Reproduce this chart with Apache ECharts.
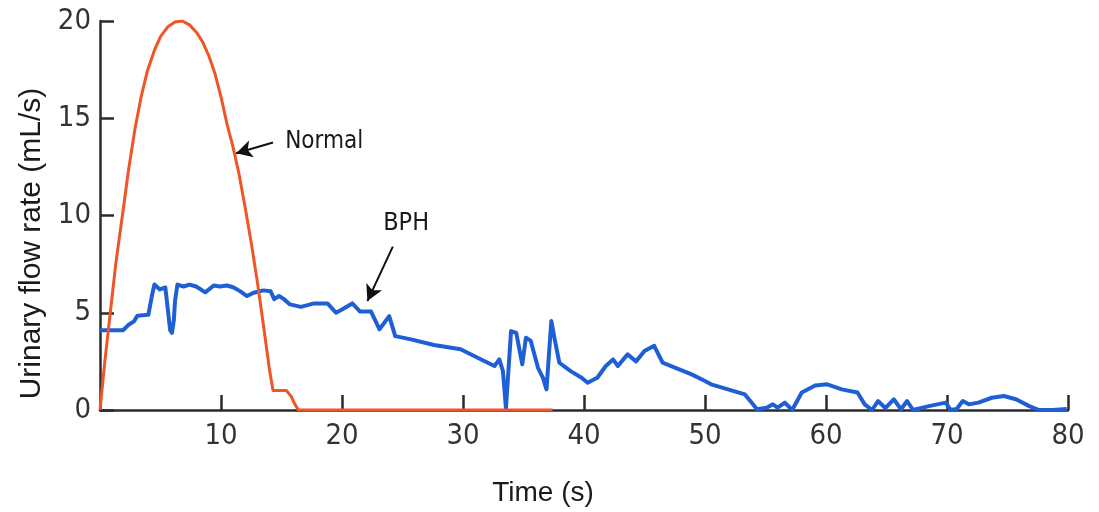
<!DOCTYPE html>
<html>
<head>
<meta charset="utf-8">
<script src="https://cdn.jsdelivr.net/npm/echarts@6/dist/echarts.min.js"></script>
<style>
  html, body { margin: 0; padding: 0; background: #ffffff; }
  #chart { width: 1099px; height: 512px; }
</style>
</head>
<body>
<div id="chart"></div>
<script>
// ---- Data ----
const xTicks = [0, 10, 20, 30, 40, 50, 60, 70, 80];
const yTicks = [0, 5, 10, 15, 20];

const normalTime = [0, 0.4, 0.85, 1.3, 1.85, 2.35, 2.9, 3.4, 3.9, 4.5, 5.0, 5.6, 6.2, 6.8, 7.4, 8.0, 8.5, 9.0, 9.5, 10.0, 10.5, 11.0, 11.5, 12.0, 12.5, 13.0, 13.5, 14.0, 14.3, 15.4, 15.8, 16.1, 16.4, 37.4];
const normalFlow = [0, 2.5, 5, 7.5, 10, 12.3, 14.5, 16.1, 17.4, 18.5, 19.2, 19.7, 19.95, 20, 19.8, 19.4, 18.9, 18.2, 17.3, 16.1, 14.7, 13.5, 12.1, 10.4, 8.6, 6.6, 4.4, 2.1, 1.0, 1.0, 0.7, 0.3, 0, 0];

const bphTime = [0, 1.9, 2.4, 2.8, 3.1, 4.0, 4.3, 4.5, 4.95, 5.4, 5.6, 5.8, 5.95, 6.1, 6.2, 6.4, 6.9, 7.4, 7.95, 8.7, 9.4, 9.9, 10.5, 11.05, 11.6, 12.15, 12.7, 13.5, 14.1, 14.4, 14.8, 15.2, 15.7, 16.6, 17.7, 18.8, 19.5, 20.0, 20.85, 21.5, 22.4, 23.1, 23.9, 24.4, 25.7, 27.6, 29.8, 31.5, 32.6, 33.0, 33.3, 33.55, 33.97, 34.4, 34.9, 35.2, 35.6, 36.2, 36.6, 36.9, 37.3, 37.55, 37.96, 38.9, 39.8, 40.3, 41.1, 41.8, 42.4, 42.8, 43.6, 44.3, 45.0, 45.8, 46.5, 47.2, 48.9, 50.0, 50.5, 53.3, 54.3, 55.1, 55.6, 56.0, 56.6, 57.2, 58.0, 59.1, 60.1, 61.3, 62.6, 63.2, 63.8, 64.3, 64.9, 65.6, 66.2, 66.7, 67.2, 68.5, 69.9, 70.3, 70.8, 71.3, 71.8, 72.6, 73.7, 74.7, 75.7, 76.8, 77.6, 78.7, 79.9];
const bphFlow = [4.1, 4.1, 4.4, 4.55, 4.85, 4.9, 5.9, 6.45, 6.2, 6.3, 5.2, 4.1, 3.97, 4.6, 5.6, 6.45, 6.35, 6.45, 6.35, 6.05, 6.4, 6.35, 6.4, 6.3, 6.1, 5.86, 6.03, 6.15, 6.1, 5.7, 5.86, 5.7, 5.43, 5.3, 5.48, 5.48, 5.0, 5.17, 5.48, 5.06, 5.06, 4.15, 4.83, 3.8, 3.63, 3.34, 3.12, 2.6, 2.26, 2.6, 2.0, 0.1, 4.06, 3.97, 2.35, 3.72, 3.55, 2.17, 1.66, 1.06, 4.58, 3.72, 2.43, 2.0, 1.66, 1.4, 1.66, 2.26, 2.6, 2.26, 2.86, 2.5, 3.03, 3.3, 2.43, 2.26, 1.83, 1.49, 1.32, 0.8, 0.04, 0.12, 0.29, 0.12, 0.38, 0, 0.9, 1.26, 1.32, 1.06, 0.9, 0.29, 0, 0.46, 0.1, 0.55, 0.04, 0.46, 0, 0.2, 0.38, 0, 0.05, 0.46, 0.29, 0.38, 0.63, 0.72, 0.55, 0.2, 0, 0, 0.05];

// annotation anchors (data coords)
const normalLabel = { text: 'Normal', at: [15.3, 13.8], arrowFrom: [14.3, 13.75], arrowTo: [11.25, 13.2] };
const bphLabel = { text: 'BPH', at: [25.3, 9.6], arrowFrom: [24.2, 8.4], arrowTo: [22.1, 5.6] };

const zip = (a, b) => a.map((v, i) => [v, b[i]]);

const narrow = "'Liberation Sans Narrow', 'DejaVu Sans Condensed', 'Arial Narrow', sans-serif";
const regular = "'Liberation Sans', Arial, sans-serif";
const axisColor = '#2b2b2b';

const chart = echarts.init(document.getElementById('chart'));
chart.setOption({
  animation: false,
  backgroundColor: '#ffffff',
  grid: { left: 100, right: 31, top: 21, bottom: 102, containLabel: false },
  xAxis: {
    type: 'value',
    min: xTicks[0], max: xTicks[xTicks.length - 1], interval: 10,
    name: 'Time (s)', nameLocation: 'middle', nameGap: 69,
    nameTextStyle: { fontFamily: regular, fontSize: 28, color: '#1a1a1a', padding: [0, 82, 0, 0] },
    axisLine: { show: true, lineStyle: { color: axisColor, width: 2.5 } },
    axisTick: { show: true, inside: true, length: 15, lineStyle: { color: axisColor, width: 2.5 } },
    axisLabel: { showMinLabel: false, margin: 12, fontFamily: narrow, fontSize: 29, color: '#333333' },
    splitLine: { show: false }
  },
  yAxis: {
    type: 'value',
    min: yTicks[0], max: yTicks[yTicks.length - 1], interval: 5,
    name: 'Urinary flow rate (mL/s)', nameLocation: 'middle', nameGap: 32, nameRotate: 90,
    nameTextStyle: { fontFamily: regular, fontSize: 30, color: '#1a1a1a', padding: [0, 56, 0, 0] },
    axisLine: { show: true, lineStyle: { color: axisColor, width: 2.5 } },
    axisTick: { show: true, inside: true, length: 14, lineStyle: { color: axisColor, width: 2.5 } },
    axisLabel: { margin: 9, fontFamily: narrow, fontSize: 29, color: '#333333' },
    splitLine: { show: false }
  },
  series: [
    {
      name: 'BPH', type: 'line', data: zip(bphTime, bphFlow),
      showSymbol: false, symbol: 'none', smooth: false, z: 2,
      lineStyle: { color: '#1f5fd6', width: 4, join: 'round' },
      markLine: {
        silent: true, symbol: ['none', 'arrow'], symbolSize: [13, 16],
        label: { show: false },
        lineStyle: { color: '#111111', width: 2, type: 'solid' },
        data: [[{ coord: bphLabel.arrowFrom }, { coord: bphLabel.arrowTo }]]
      },
      markPoint: {
        silent: true, symbol: 'circle', symbolSize: 0,
        label: { show: true, formatter: bphLabel.text, fontFamily: narrow, fontSize: 25, color: '#1a1a1a', position: 'inside' },
        data: [{ coord: bphLabel.at }]
      }
    },
    {
      name: 'Normal', type: 'line', data: zip(normalTime, normalFlow),
      showSymbol: false, symbol: 'none', smooth: false, z: 3,
      lineStyle: { color: '#ef5526', width: 3, join: 'round' },
      markLine: {
        silent: true, symbol: ['none', 'arrow'], symbolSize: [13, 16],
        label: { show: false },
        lineStyle: { color: '#111111', width: 2, type: 'solid' },
        data: [[{ coord: normalLabel.arrowFrom }, { coord: normalLabel.arrowTo }]]
      },
      markPoint: {
        silent: true, symbol: 'circle', symbolSize: 0,
        label: { show: true, formatter: normalLabel.text, fontFamily: narrow, fontSize: 24, color: '#1a1a1a', position: 'right', distance: 0 },
        data: [{ coord: normalLabel.at }]
      }
    }
  ]
});
</script>
</body>
</html>
